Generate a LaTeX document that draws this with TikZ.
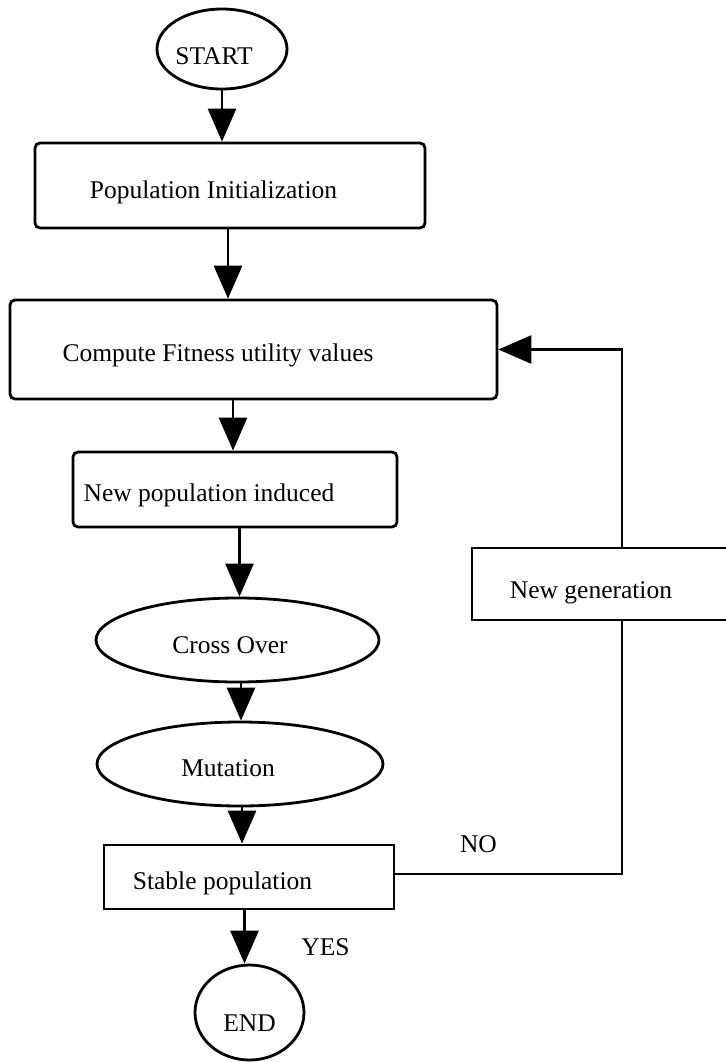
\documentclass[tikz,border=0pt]{standalone}
\usepackage{fontspec}
\setmainfont{Liberation Serif}
\usetikzlibrary{shapes.geometric,arrows.meta}
\begin{document}
\begin{tikzpicture}[x=0.5pt,y=-0.5pt,
  every node/.style={font=\fontsize{12.75}{15}\selectfont},
  ln/.style={line width=1.4pt},
  arr/.style={ln,-{Triangle[length=16.5pt,width=14pt]}},
  rbox/.style={draw,ln,rectangle,rounded corners=2.5pt,inner sep=0pt},
  sbox/.style={draw,ln,rectangle,inner sep=0pt},
  ell/.style={draw,ln,ellipse,inner sep=0pt},
  txt/.style={inner sep=0pt,text height=0pt,text depth=0pt,anchor=center}]
\useasboundingbox (0,0) rectangle (726,1062);
\clip (0,0) rectangle (726,1062);

\node[ell,minimum width=65pt,minimum height=40pt,
  label={[txt,xshift=-4pt,yshift=-7.5pt]center:START}] (start) at (222,49) {};
\node[rbox,minimum width=195pt,minimum height=42.5pt,
  label={[txt,xshift=-8.25pt,yshift=-6.4pt]center:Population Initialization}] (pop) at (230,185.5) {};
\node[rbox,minimum width=243.5pt,minimum height=49.5pt,
  label={[txt,xshift=-17.75pt,yshift=-6.1pt]center:Compute Fitness utility values}] (comp) at (253.5,349.5) {};
\node[rbox,minimum width=162pt,minimum height=37.5pt,
  label={[txt,xshift=-13pt,yshift=-5.75pt]center:New population induced}] (newpop) at (235,489.5) {};
\node[ell,minimum width=141.5pt,minimum height=42pt,
  label={[txt,xshift=-3.75pt,yshift=-6.65pt]center:Cross Over}] (cross) at (237.5,640) {};
\node[ell,minimum width=143pt,minimum height=42pt,
  label={[txt,xshift=-6pt,yshift=-6.35pt]center:Mutation}] (mut) at (240,764) {};
\node[sbox,minimum width=145pt,minimum height=32pt,
  label={[txt,xshift=-13.25pt,yshift=-6.15pt]center:Stable population}] (stable) at (249,877) {};
\node[ell,minimum width=54.5pt,minimum height=47.5pt,
  label={[txt,yshift=-9.6pt]center:END}] (end) at (249.5,1012.5) {};
\node[sbox,minimum width=150pt,minimum height=36pt,
  label={[txt,xshift=-15.5pt,yshift=-7pt]center:New generation}] (ng) at (622,584) {};
\node[txt] (yes) at (325.5,955) {YES};
\node[txt] (no) at (478.5,852) {NO};

\draw[arr] (start.south) -- (start.south |- pop.north);
\draw[arr] ([xshift=-1pt]pop.south) -- ([xshift=-1pt]pop.south |- comp.north);
\draw[arr] ([xshift=-1pt]newpop.north |- comp.south) -- ([xshift=-1pt]newpop.north);
\draw[arr] ([xshift=1pt]cross.north |- newpop.south) -- ([xshift=1pt]cross.north);
\draw[arr] ([xshift=0.5pt]mut.north |- cross.south) -- ([xshift=0.5pt]mut.north);
\draw[arr] ([xshift=1pt]mut.south) -- ([xshift=1pt]mut.south |- stable.north);
\draw[arr] ([xshift=-2.5pt]end.north |- stable.south) -- ([xshift=-2.5pt]end.north);
\draw[ln] ([yshift=1.5pt]stable.east) -| (ng.south);
\draw[arr] (ng.north) |- (comp.east);
\end{tikzpicture}
\end{document}
